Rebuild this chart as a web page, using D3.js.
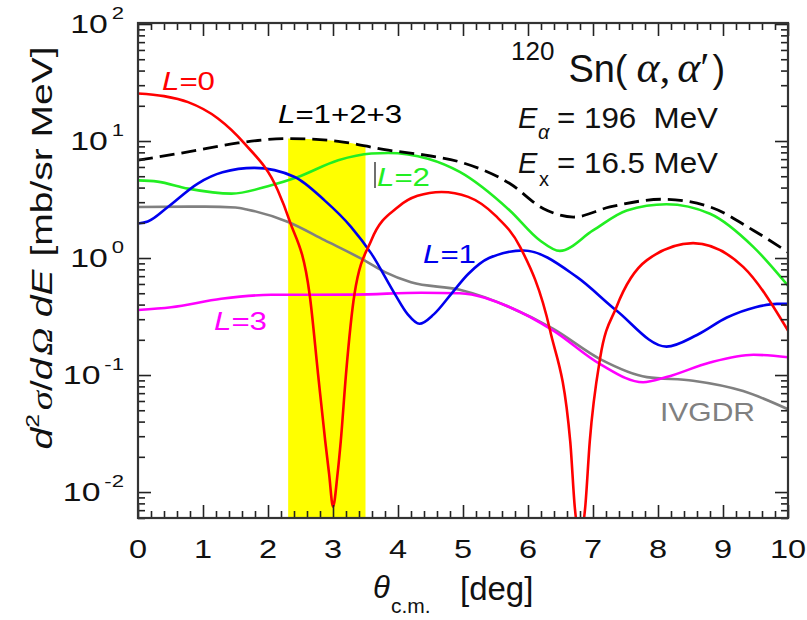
<!DOCTYPE html>
<html><head><meta charset="utf-8">
<script src="https://cdn.jsdelivr.net/npm/d3@7"></script>
<style>
body{margin:0;background:#fff}
svg{display:block}
text{font-family:"Liberation Sans",Arial,Helvetica,sans-serif;fill:#111}
</style>
</head><body>
<svg id="c" width="807" height="620"></svg>
<script>
// ---------- data (theta in deg, cross section in mb/sr MeV) ----------
const thetaL0 = [0,0.4,0.77,1.23,1.64,2.15,2.33,2.64,2.77,2.88,2.94,3.0,3.07,3.12,3.2,3.33,3.59,4.0,4.3,4.67,5.08,5.5,5.88,6.34,6.65,6.72,6.8,6.88,6.95,7.11,7.36,7.83,8.54,9.31,10];
const valL0   = [25.5,24.2,21.5,15.6,9.5,3.8,2.1,0.49,0.102,0.0274,0.0143,0.0075,0.0143,0.0274,0.102,0.49,1.42,2.73,3.4,3.67,3.33,2.3,1.24,0.24,0.027,0.0074,0.004,0.0074,0.027,0.14,0.38,0.96,1.34,0.84,0.24];

const thetaL1 = [0,0.15,0.46,0.92,1.3,1.79,2.41,2.87,3.28,3.59,3.95,4.15,4.33,4.55,4.82,5.08,5.4,5.93,6.75,7.36,8.13,8.6,9.06,9.5,9.83,10];
const valL1   = [1.97,2.05,2.73,4.33,5.4,5.89,4.93,3.11,1.84,1.09,0.494,0.33,0.274,0.33,0.494,0.73,1.0,1.16,0.69,0.356,0.175,0.22,0.31,0.38,0.406,0.406];

const thetaL2 = [0,0.3,0.77,1.44,2.05,2.46,3.08,3.59,3.85,4.46,4.95,5.72,6.18,6.49,7.0,7.52,8.13,8.8,9.47,10];
const valL2   = [4.61,4.5,3.92,3.55,4.19,4.93,6.85,7.82,7.91,7.07,5.45,2.55,1.42,1.15,1.72,2.55,2.88,2.39,1.24,0.58];

const thetaL3 = [0,0.51,1.28,2.05,3.33,4.36,4.95,5.72,6.39,7.11,7.77,8.13,8.8,9.47,10];
const valL3   = [0.36,0.38,0.448,0.485,0.487,0.505,0.50,0.38,0.24,0.124,0.0867,0.096,0.128,0.149,0.142];

const thetaSum = [0,0.77,1.54,2.31,3.08,3.85,4.4,4.95,5.72,6.24,6.7,7.26,8.08,8.8,9.47,10];
const valSum   = [6.85,8.07,9.63,10.5,9.95,8.34,7.6,6.63,4.33,2.64,2.24,2.73,3.18,2.73,1.72,1.12];

const thetaGDR = [0,1.03,1.5,1.69,2.31,2.87,3.49,3.8,4.2,4.95,5.72,6.39,7.11,7.83,8.54,9.31,10];
const valGDR   = [2.73,2.75,2.7,2.59,2.03,1.42,0.95,0.757,0.62,0.535,0.38,0.248,0.137,0.096,0.0895,0.073,0.051];

const bandRange = [2.31, 3.5];            // yellow angular window
const xTickValues = [0,1,2,3,4,5,6,7,8,9,10];
const yDecades = [-2,-1,0,1,2];

// ---------- scales ----------
const pL = 138, pR = 788, pT = 23, pB = 518;
const x = d3.scaleLinear().domain([0,10]).range([pL,pR]);
const y = d3.scaleLog().domain([0.006,102]).range([pB,pT]);

const svg = d3.select("#c");
const defs = svg.append("defs");
defs.append("clipPath").attr("id","plot")
  .append("rect").attr("x",pL).attr("y",pT).attr("width",pR-pL).attr("height",pB-pT);
defs.append("clipPath").attr("id","band")
  .append("rect").attr("x",x(bandRange[0])).attr("y",pT)
  .attr("width",x(bandRange[1])-x(bandRange[0])).attr("height",pB-pT);

const zip = (a,b)=>a.map((t,i)=>[t,b[i]]);
const line = d3.line().x(d=>x(d[0])).y(d=>y(d[1])).curve(d3.curveMonotoneX);
const area = d3.area().x(d=>x(d[0])).y0(pB).y1(d=>y(d[1])).curve(d3.curveMonotoneX);

// yellow band under the summed curve
svg.append("path").attr("clip-path","url(#band)")
  .attr("d", area(zip(thetaSum,valSum))).attr("fill","#ffff00");

const gCurves = svg.append("g").attr("clip-path","url(#plot)").attr("fill","none");
const series = [
  {t:thetaGDR, v:valGDR, c:"#808080", w:2.6},
  {t:thetaL3, v:valL3, c:"#ff00ff", w:2.6},
  {t:thetaL2, v:valL2, c:"#22ee22", w:2.6},
  {t:thetaL1, v:valL1, c:"#0000ee", w:2.6},
  {t:thetaL0, v:valL0, c:"#ff0000", w:2.6},
];
series.forEach(s=>{
  gCurves.append("path").attr("d", line(zip(s.t,s.v)))
    .attr("stroke", s.c).attr("stroke-width", s.w);
});
gCurves.append("path").attr("d", line(zip(thetaSum,valSum)))
  .attr("stroke","#000").attr("stroke-width",2.8).attr("stroke-dasharray","15,7");

// ---------- axes (inward ticks on all four sides) ----------
const xMinor = d3.range(0,51).map(i=>i/5).filter(v=>Math.abs(v-Math.round(v))>1e-9);
const yMinor = [];
[-3,-2,-1,0,1].forEach(e=>{ for(let k=2;k<=9;k++){ const v=k*Math.pow(10,e); if(v>=0.006 && v<=100) yMinor.push(v);} });
const yMajor = yDecades.map(e=>Math.pow(10,e));

function styleAxis(g){ g.select(".domain").remove(); g.selectAll("line").attr("stroke","#222").attr("stroke-width",1.6); g.selectAll("text").remove(); }
svg.append("g").attr("transform",`translate(0,${pB})`).call(d3.axisBottom(x).tickValues(xMinor).tickSize(-7)).call(styleAxis);
svg.append("g").attr("transform",`translate(0,${pB})`).call(d3.axisBottom(x).tickValues(xTickValues).tickSize(-13)).call(styleAxis);
svg.append("g").attr("transform",`translate(0,${pT})`).call(d3.axisTop(x).tickValues(xMinor).tickSize(-7)).call(styleAxis);
svg.append("g").attr("transform",`translate(0,${pT})`).call(d3.axisTop(x).tickValues(xTickValues).tickSize(-13)).call(styleAxis);
svg.append("g").attr("transform",`translate(${pL},0)`).call(d3.axisLeft(y).tickValues(yMinor).tickSize(-7)).call(styleAxis);
svg.append("g").attr("transform",`translate(${pL},0)`).call(d3.axisLeft(y).tickValues(yMajor).tickSize(-13)).call(styleAxis);
svg.append("g").attr("transform",`translate(${pR},0)`).call(d3.axisRight(y).tickValues(yMinor).tickSize(-7)).call(styleAxis);
svg.append("g").attr("transform",`translate(${pR},0)`).call(d3.axisRight(y).tickValues(yMajor).tickSize(-13)).call(styleAxis);

svg.append("rect").attr("x",pL).attr("y",pT).attr("width",pR-pL).attr("height",pB-pT)
  .attr("fill","none").attr("stroke","#333").attr("stroke-width",2.2);

// helper for horizontally widened text
function wtext(px,py,sx,anchor,size){
  return svg.append("text").attr("transform",`translate(${px},${py}) scale(${sx},1)`)
    .attr("text-anchor",anchor||"start").attr("font-size",size);
}
const serif = "'Liberation Serif','DejaVu Serif',serif";

// x tick labels
xTickValues.forEach(v=>{
  wtext(x(v),558,1.25,"middle",26).text(v);
});
// y tick labels
yDecades.forEach(e=>{
  const t = wtext(124, y(Math.pow(10,e))+9, 1.3, "end", 26);
  t.append("tspan").text("10");
  t.append("tspan").attr("dx",3).attr("dy",-14).attr("font-size",17).text(e);
});

// axis titles
svg.append("text").attr("x",373).attr("y",598)
  .attr("font-family",serif).attr("font-style","italic").attr("font-size",31).text("θ");
svg.append("text").attr("x",391).attr("y",613).attr("font-size",21).text("c.m.");
svg.append("text").attr("x",460).attr("y",600).attr("font-size",33).text("[deg]");

const yt = svg.append("text").attr("transform",`translate(52,248) rotate(-90) scale(1.3,1)`)
  .attr("text-anchor","middle").attr("font-size",30);
yt.append("tspan").attr("font-style","italic").text("d");
yt.append("tspan").attr("font-size",19).attr("dy",-13).text("2");
yt.append("tspan").attr("dy",13).attr("dx",3).attr("font-family",serif).attr("font-style","italic").text("σ");
yt.append("tspan").text("/");
yt.append("tspan").attr("font-style","italic").text("d");
yt.append("tspan").attr("dx",2).attr("font-family",serif).attr("font-style","italic").text("Ω");
yt.append("tspan").attr("dx",8).attr("font-style","italic").text("dE");
yt.append("tspan").attr("dx",10).text("[mb/sr MeV]");

// curve labels
function curveLabel(px,py,color,num){
  const t = wtext(px,py,1.25,"start",25).style("fill",color);
  t.append("tspan").attr("font-style","italic").text("L");
  t.append("tspan").text("="+num);
  return t;
}
curveLabel(162,90,"#ff0000","0");
curveLabel(278,123,"#000","1+2+3");
curveLabel(423,263,"#0000ee","1");
curveLabel(214,330,"#ff00ff","3");
svg.append("line").attr("x1",375).attr("x2",375).attr("y1",162).attr("y2",188).attr("stroke","#222").attr("stroke-width",1.3);
curveLabel(377,186,"#22ee22","2");
wtext(660,421,1.2,"start",25).style("fill","#808080").text("IVGDR");

// reaction title
const tt = svg.append("text").attr("x",511).attr("y",82).attr("font-size",38);
tt.append("tspan").attr("font-size",26).attr("dy",-22).text("120");
tt.append("tspan").attr("dy",22).attr("dx",14).text("Sn(");
tt.append("tspan").attr("dx",9).attr("font-size",44).attr("font-family",serif).attr("font-style","italic").text("α");
tt.append("tspan").attr("font-size",42).attr("font-family",serif).text(",");
tt.append("tspan").attr("dx",7).attr("font-size",44).attr("font-family",serif).attr("font-style","italic").text("α");
tt.append("tspan").attr("font-size",42).attr("font-family",serif).text("′");
tt.append("tspan").attr("dx",3).text(")");

// beam / excitation energy
svg.append("text").attr("x",518).attr("y",128).attr("font-size",29).attr("font-style","italic").text("E");
svg.append("text").attr("x",538).attr("y",139).attr("font-size",20).attr("font-family",serif).attr("font-style","italic").text("α");
wtext(557,128,1.08,"start",29).style("white-space","pre").text("= 196  MeV");
svg.append("text").attr("x",518).attr("y",173).attr("font-size",29).attr("font-style","italic").text("E");
svg.append("text").attr("x",539).attr("y",186).attr("font-size",20).text("x");
wtext(557,173,1.08,"start",29).text("= 16.5 MeV");
</script>
</body></html>
